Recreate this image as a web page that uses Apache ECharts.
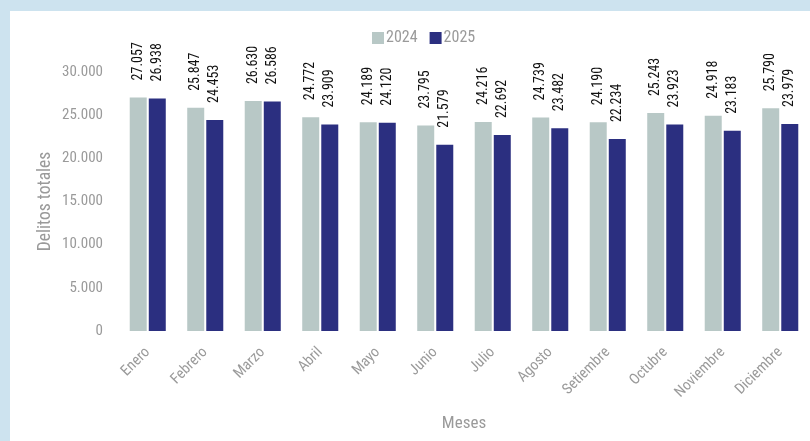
<!DOCTYPE html>
<html><head><meta charset="utf-8">
<script src="https://cdn.jsdelivr.net/npm/echarts@6/dist/echarts.min.js"></script>
<style>
html,body{margin:0;padding:0;width:810px;height:441px;background:#cde3ef;overflow:hidden}
#c{position:absolute;left:10px;top:11px;width:800px;height:430px;background:#ffffff}
</style></head><body>
<div id="c"></div>
<script>
const categories = ['Enero','Febrero','Marzo','Abril','Mayo','Junio','Julio','Agosto','Setiembre','Octubre','Noviembre','Diciembre'];
const values2024 = [27057,25847,26630,24772,24189,23795,24216,24739,24190,25243,24918,25790];
const values2025 = [26938,24453,26586,23909,24120,21579,22692,23482,22234,23923,23183,23979];
const yTicks = {min:0, max:30000, interval:5000};

const FONT = '"Roboto Condensed","Liberation Sans Narrow","DejaVu Sans Condensed",sans-serif';
const fmt = v => String(v).replace(/\B(?=(\d{3})+(?!\d))/g, '.');

const chart = echarts.init(document.getElementById('c'), null, {renderer:'canvas'});
const labelCfg = {
  show:true, position:['50%', -17], rotate:90, align:'left', verticalAlign:'middle',
  color:'#111', fontSize:14, fontFamily:FONT,
  formatter: p => fmt(p.value)
};
chart.setOption({
  animation:false,
  textStyle:{fontFamily:FONT},
  legend:{
    top:14, left:357, itemWidth:12, itemHeight:12, itemGap:12,
    textStyle:{color:'#9a9a9a', fontSize:16, fontFamily:FONT, padding:[0,0,0,-3]},
    icon:'rect',
    data:['2024','2025']
  },
  grid:{left:109, right:1, top:61, bottom:110, containLabel:false},
  xAxis:{
    type:'category', data:categories,
    name:'Meses', nameLocation:'middle', nameGap:84, nameMoveOverlap:false,
    nameTextStyle:{color:'#9a9a9a', fontSize:17, fontFamily:FONT},
    axisLine:{show:false}, axisTick:{show:false},
    axisLabel:{rotate:45, color:'#9a9a9a', fontSize:15, fontFamily:FONT, margin:19, interval:0}
  },
  yAxis:{
    type:'value', min:yTicks.min, max:yTicks.max, interval:yTicks.interval,
    name:'Delitos totales', nameLocation:'middle', nameGap:64, nameRotate:90, nameMoveOverlap:false,
    nameTextStyle:{color:'#9a9a9a', fontSize:17.5, fontFamily:FONT},
    splitLine:{show:false}, axisLine:{show:false}, axisTick:{show:false},
    axisLabel:{color:'#9a9a9a', fontSize:15, fontFamily:FONT, margin:16, formatter:v=>fmt(v)}
  },
  series:[
    {name:'2024', type:'bar', data:values2024, barWidth:17, barGap:'12%',
     itemStyle:{color:'#b8c8c6'}, label:labelCfg},
    {name:'2025', type:'bar', data:values2025, barWidth:17,
     itemStyle:{color:'#2b2f80'}, label:labelCfg}
  ]
});
</script></body></html>
